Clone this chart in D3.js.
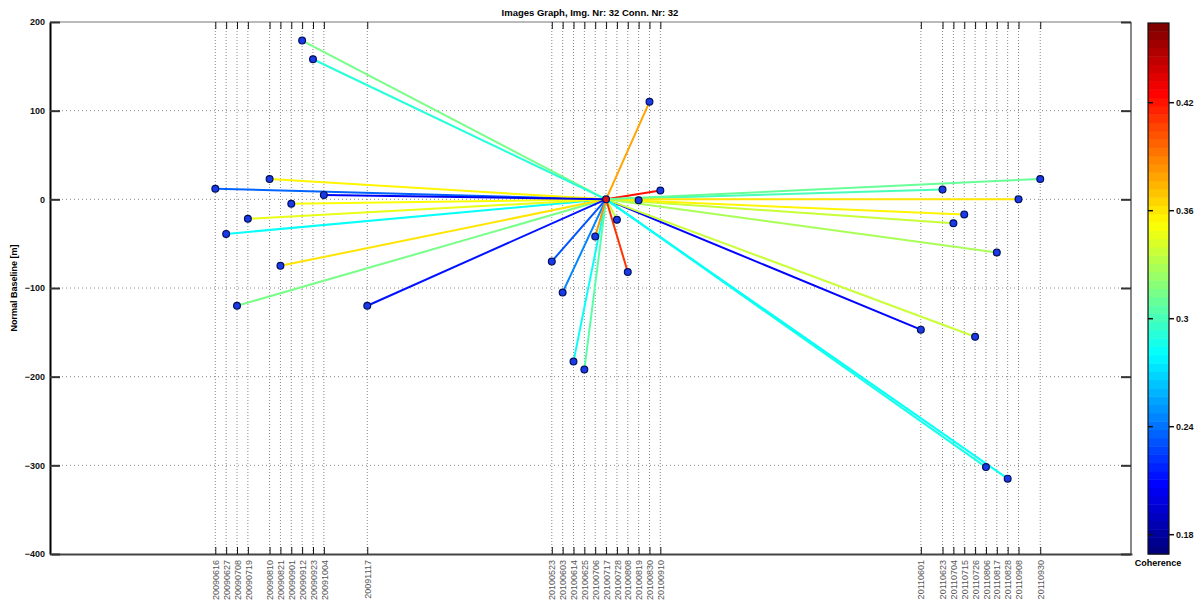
<!DOCTYPE html>
<html>
<head>
<meta charset="utf-8">
<script src="https://cdn.jsdelivr.net/npm/d3@7"></script>
<style>
  body { margin: 0; background: #fff; }
  text { font-family: "Liberation Sans", Arial, sans-serif; }
</style>
</head>
<body>
<div class="svg-container"></div>
<script>
var width = 1200,
  height = 602;

// acquisition dates, normal baseline [m], coherence of the link to the master
var dates = ["20090616", "20090627", "20090708", "20090719", "20090810", "20090821",
  "20090901", "20090912", "20090923", "20091004", "20091117",
  "20100523", "20100603", "20100614", "20100625", "20100706", "20100717",
  "20100728", "20100808", "20100819", "20100830", "20100910",
  "20110601", "20110623", "20110704", "20110715", "20110726", "20110806",
  "20110817", "20110828", "20110908", "20110930"];
var baselines = [12, -39, -120, -22, 23, -75, -5, 179, 158, 5, -120,
  -70, -105, -183, -192, -42, 0, -23, -82, -1, 110, 10,
  -147, 11, -27, -17, -155, -302, -60, -315, 0, 23];
var coherence = [0.235, 0.28, 0.315, 0.345, 0.355, 0.36, 0.35, 0.315, 0.29, 0.205, 0.215,
  0.23, 0.245, 0.28, 0.305, 0.385, null, 0.335, 0.41, 0.425, 0.38, 0.42,
  0.21, 0.30, 0.335, 0.355, 0.335, 0.285, 0.33, 0.28, 0.36, 0.31];
var master = "20100717";
var yTicks = [200, 100, 0, -100, -200, -300, -400];
var cTicks = [0.18, 0.24, 0.3, 0.36, 0.42];
var cDomain = [0.169, 0.464];

var parse = d3.timeParse("%Y%m%d");

var pl = 50, pr = 1131, pt = 22, pb = 554;

var svg = d3.select(".svg-container").append("svg")
  .attr("width", width)
  .attr("height", height);

var x = d3.scaleTime()
  .domain([new Date(2009, 0, 1), new Date(2012, 0, 1)])
  .range([51.5, 1132]);
var y = d3.scaleLinear().domain([-400, 200]).range([pb, pt]);

// MATLAB jet colormap, 64 steps
var jet = function(t) {
  t = Math.max(0, Math.min(1, t));
  t = Math.min(63, Math.floor(t * 64)) / 63;
  var c = function(v) { return Math.round(255 * Math.max(0, Math.min(1, v))); };
  return 'rgb(' + c(1.5 - Math.abs(4 * t - 3)) + ',' + c(1.5 - Math.abs(4 * t - 2)) + ',' + c(1.5 - Math.abs(4 * t - 1)) + ')';
};
var cScale = d3.scaleLinear().domain(cDomain).range([0, 1]);

var data = dates.map(function(d, i) {
  return { date: parse(d), label: d, b: baselines[i], c: coherence[i], master: d === master };
});
var m = data.filter(function(d) { return d.master; })[0];

// grid
svg.append("g").selectAll("line")
  .data(data)
  .enter().append("line")
  .attr("x1", function(d) { return x(d.date); })
  .attr("x2", function(d) { return x(d.date); })
  .attr("y1", pt).attr("y2", pb)
  .attr("stroke", "#888").attr("stroke-width", 1)
  .attr("stroke-dasharray", "1,2");

svg.append("g").selectAll("line")
  .data(yTicks.slice(1, -1))
  .enter().append("line")
  .attr("x1", pl).attr("x2", pr)
  .attr("y1", function(d) { return y(d); })
  .attr("y2", function(d) { return y(d); })
  .attr("stroke", "#888").attr("stroke-width", 1)
  .attr("stroke-dasharray", "1,3");

// box
svg.append("line").attr("x1", pl).attr("x2", pr).attr("y1", pt).attr("y2", pt)
  .attr("stroke", "#777").attr("stroke-width", 1);
svg.append("line").attr("x1", pr).attr("x2", pr).attr("y1", pt).attr("y2", pb)
  .attr("stroke", "#111").attr("stroke-width", 1);

// x axis (bottom and top ticks)
var xAxis = d3.axisBottom(x)
  .tickValues(data.map(function(d) { return d.date; }))
  .tickFormat(d3.timeFormat("%Y%m%d"))
  .tickSizeInner(-7).tickSizeOuter(0);
var gx = svg.append("g").attr("transform", "translate(0," + pb + ")").call(xAxis);
gx.select(".domain").attr("stroke", "#444").attr("stroke-width", 2);
gx.selectAll(".tick line").attr("stroke", "#111").attr("stroke-width", 1);
gx.selectAll(".tick text")
  .attr("transform", "rotate(-90)")
  .attr("x", -6).attr("y", 0).attr("dy", "0.35em")
  .attr("text-anchor", "end")
  .attr("fill", "#555")
  .style("font-size", "9px");

var gxt = svg.append("g").attr("transform", "translate(0," + pt + ")")
  .call(d3.axisTop(x).tickValues(data.map(function(d) { return d.date; }))
    .tickFormat("").tickSizeInner(-7).tickSizeOuter(0));
gxt.select(".domain").remove();
gxt.selectAll(".tick line").attr("stroke", "#111");

// y axis
var gy = svg.append("g").attr("transform", "translate(" + pl + ",0)")
  .call(d3.axisLeft(y).tickValues(yTicks).tickSizeInner(-10).tickSizeOuter(0).tickPadding(5));
gy.select(".domain").attr("stroke", "#000").attr("stroke-width", 2);
gy.selectAll(".tick line").attr("stroke", "#333").attr("stroke-width", 2);
gy.selectAll(".tick text").attr("fill", "#111").style("font-size", "9px").style("font-weight", "bold");

var gyr = svg.append("g").attr("transform", "translate(" + pr + ",0)")
  .call(d3.axisRight(y).tickValues(yTicks).tickFormat("").tickSizeInner(-10).tickSizeOuter(0));
gyr.select(".domain").remove();
gyr.selectAll(".tick line").attr("stroke", "#333").attr("stroke-width", 2);

// connections
svg.append("g").selectAll("line")
  .data(data.filter(function(d) { return !d.master; }))
  .enter().append("line")
  .attr("x1", x(m.date)).attr("y1", y(m.b))
  .attr("x2", function(d) { return x(d.date); })
  .attr("y2", function(d) { return y(d.b); })
  .attr("stroke", function(d) { return jet(cScale(d.c)); })
  .attr("stroke-width", 2);

// images
svg.append("g").selectAll("circle")
  .data(data)
  .enter().append("circle")
  .attr("cx", function(d) { return x(d.date); })
  .attr("cy", function(d) { return y(d.b); })
  .attr("r", 3.4)
  .attr("fill", function(d) { return d.master ? "#e01010" : "#1a3ae8"; })
  .attr("stroke", "#00105a")
  .attr("stroke-width", 1.2);

// title and labels
svg.append("text").attr("x", 590).attr("y", 16)
  .attr("text-anchor", "middle")
  .style("font-size", "9.5px").style("font-weight", "bold")
  .text("Images Graph, Img. Nr: 32 Conn. Nr: 32");

svg.append("text")
  .attr("transform", "translate(17,288) rotate(-90)")
  .attr("text-anchor", "middle")
  .style("font-size", "9px").style("font-weight", "bold")
  .text("Normal Baseline [m]");

// colorbar
var cbX = 1148, cbW = 21;
var cy = d3.scaleLinear().domain(cDomain).range([pb, pt + 1]);
var steps = d3.range(64);
svg.append("g").selectAll("rect")
  .data(steps)
  .enter().append("rect")
  .attr("x", cbX)
  .attr("y", function(i) { return cy(cDomain[0] + (i + 1) * (cDomain[1] - cDomain[0]) / 64); })
  .attr("width", cbW)
  .attr("height", function(i) { return (pb - pt - 1) / 64 + 0.5; })
  .attr("fill", function(i) { return jet((i + 0.5) / 64); });
svg.append("rect").attr("x", cbX).attr("y", pt + 1).attr("width", cbW).attr("height", pb - pt - 1)
  .attr("fill", "none").attr("stroke", "#111").attr("stroke-width", 1.2);

var gc = svg.append("g").attr("transform", "translate(" + (cbX + cbW) + ",0)")
  .call(d3.axisRight(cy).tickValues(cTicks).tickFormat(d3.format("")).tickSizeInner(5).tickSizeOuter(0).tickPadding(2));
gc.select(".domain").remove();
gc.selectAll(".tick line").attr("stroke", "#111").attr("stroke-width", 1.5);
gc.selectAll(".tick text").attr("fill", "#111").style("font-size", "9px").style("font-weight", "bold");
svg.append("g").attr("transform", "translate(" + cbX + ",0)")
  .call(d3.axisRight(cy).tickValues(cTicks).tickFormat("").tickSizeInner(5).tickSizeOuter(0))
  .call(function(g) { g.select(".domain").remove(); })
  .selectAll(".tick line").attr("stroke", "#111").attr("stroke-width", 1.5);

svg.append("text").attr("x", 1158).attr("y", 566)
  .attr("text-anchor", "middle")
  .style("font-size", "9px").style("font-weight", "bold")
  .text("Coherence");
</script>
</body>
</html>
